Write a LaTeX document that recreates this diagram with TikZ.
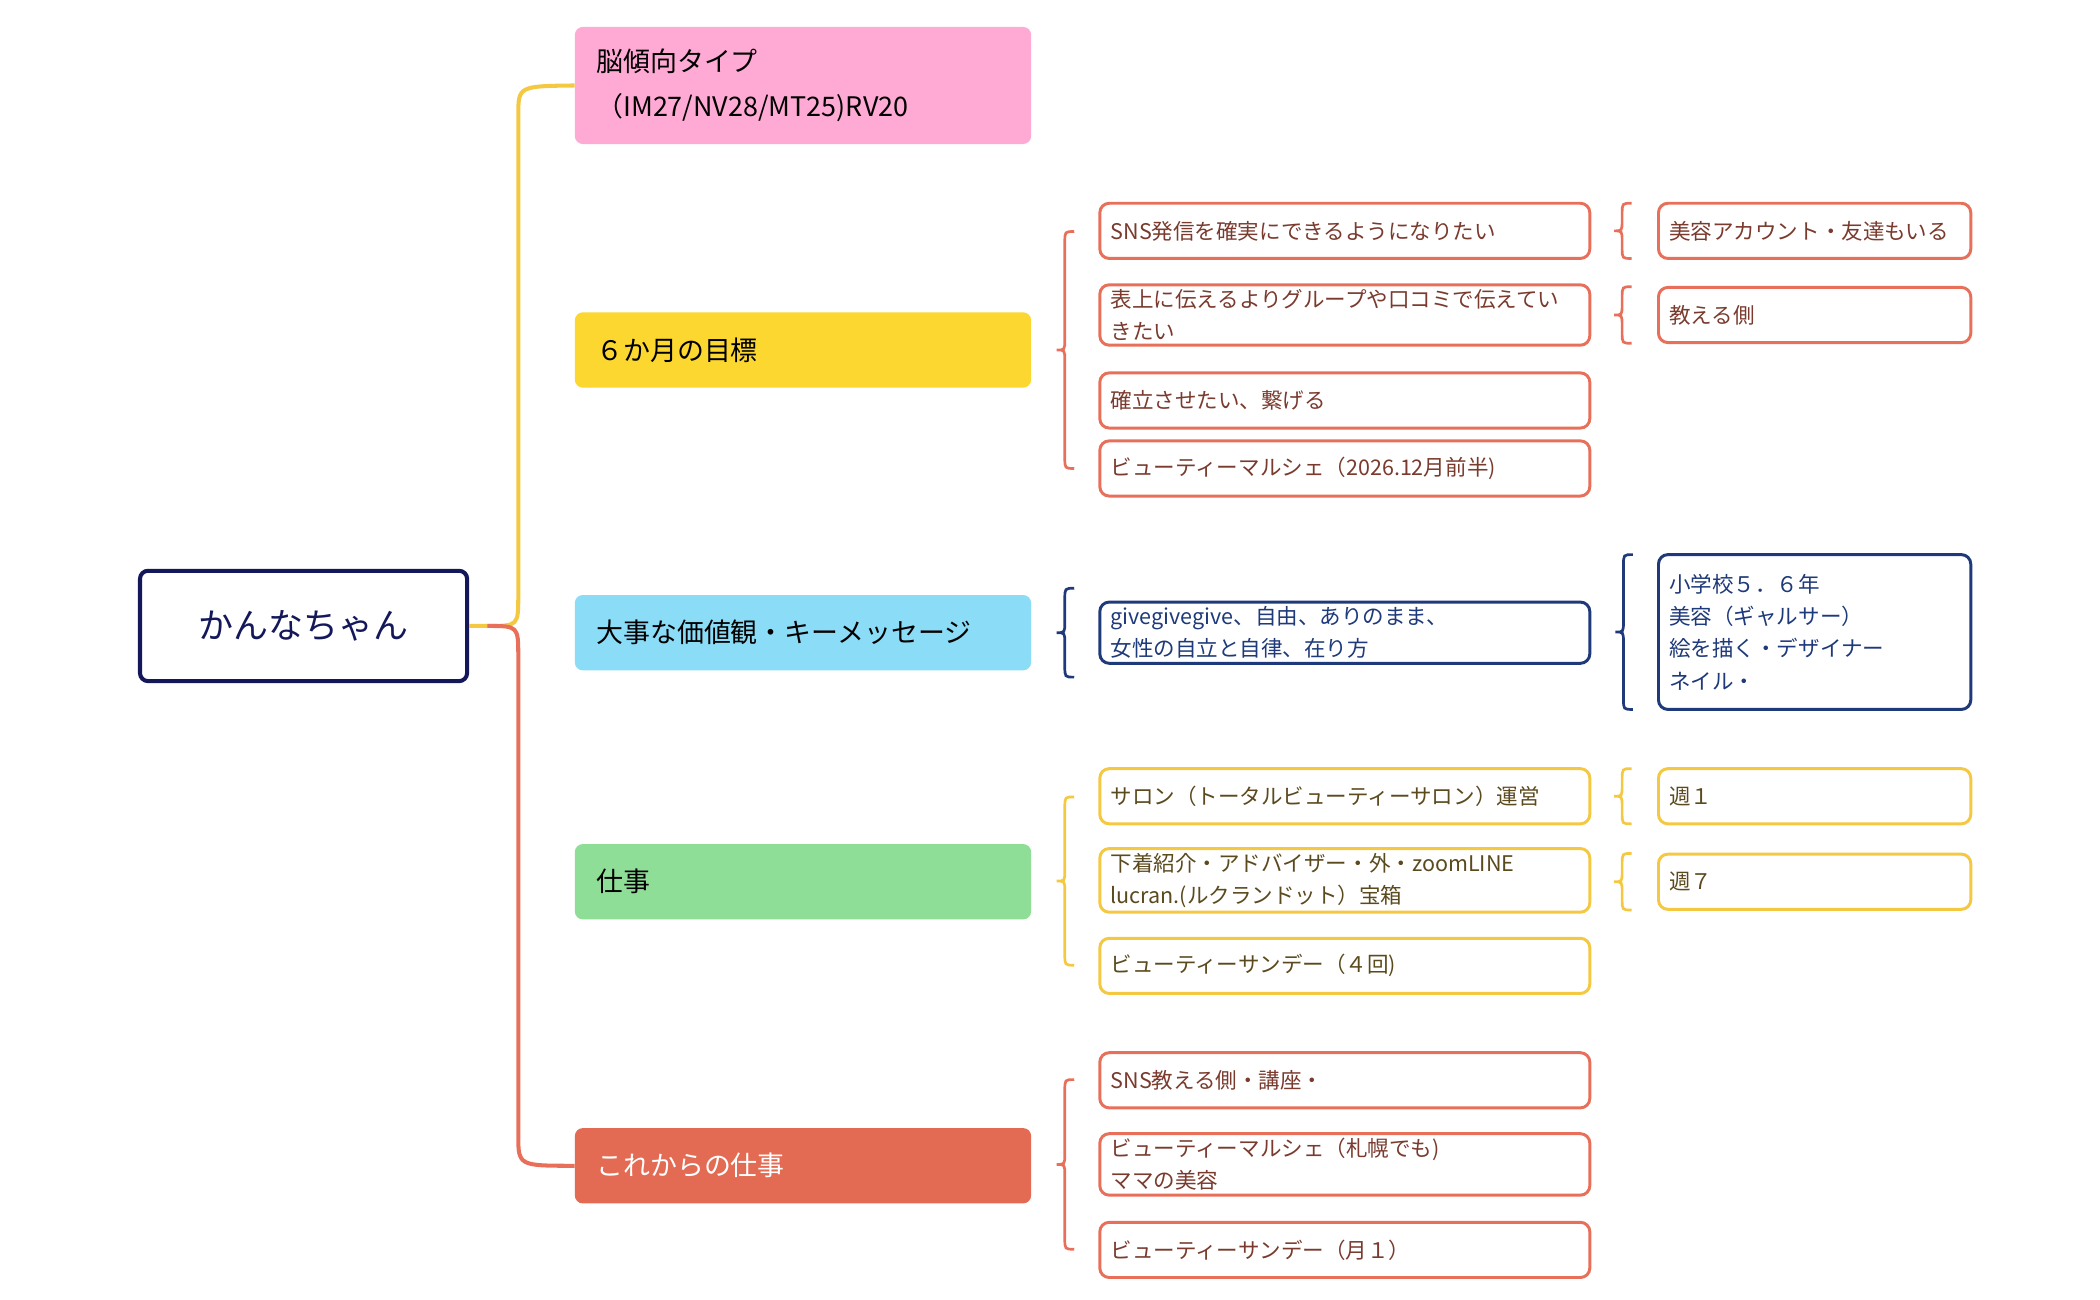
\documentclass[tikz,border=0pt]{standalone}
\usepackage{fontspec}
\setmainfont{Noto Sans CJK JP}
\usetikzlibrary{positioning}

\definecolor{navy}{HTML}{14185A}
\definecolor{redline}{HTML}{E8705A}
\definecolor{redtext}{HTML}{7A3B2E}
\definecolor{blueline}{HTML}{1F3A7A}
\definecolor{yelline}{HTML}{F5C842}
\definecolor{yeltext}{HTML}{5B4A1E}
\definecolor{pinkfill}{HTML}{FFAAD5}
\definecolor{yelfill}{HTML}{FBD72F}
\definecolor{bluefill}{HTML}{8BDCF7}
\definecolor{greenfill}{HTML}{8EDE98}
\definecolor{orangefill}{HTML}{E46B53}

\newcommand{\curly}[4]{%
  \pgfmathsetmacro{\midy}{(#2+#3)/2}
  \draw[#4, line width=2] ({#1+7},#2) .. controls (#1,#2) .. (#1,{#2+8})
    -- (#1,{\midy-8}) .. controls (#1,\midy) .. ({#1-6},\midy)
    .. controls (#1,\midy) .. (#1,{\midy+8}) -- (#1,{#3-8})
    .. controls (#1,#3) .. ({#1+7},#3);}

\begin{document}
\begin{tikzpicture}[
    x=1pt, y=-1pt,
    topic/.style={
        rectangle,
        rounded corners=6pt,
        align=left,
        text width=307pt,
        inner xsep=16pt,
        minimum height=56pt,
        font=\fontsize{20}{33}\selectfont
    },
    leaf/.style={
        rectangle,
        draw,
        line width=2.2,
        rounded corners=7pt,
        fill=white,
        align=left,
        text width=348pt,
        inner xsep=8pt,
        minimum height=41pt,
        font=\fontsize{16}{24}\selectfont
    },
    small/.style={leaf, text width=216pt}
]
\useasboundingbox (0,0) rectangle (1560,965);

% root and main branches
\node[rectangle, draw=navy, line width=3, rounded corners=6pt, minimum width=243pt,
      minimum height=82pt, text=navy, font=\fontsize{26}{30}\selectfont] (root) at (225.5,465) {かんなちゃん};

\node[topic, fill=pinkfill, minimum height=87pt] (brain) at (596.5,63.5) {脳傾向タイプ\\（IM27/NV28/MT25)RV20};
\node[topic, fill=yelfill] (goal) at (596.5,260) {６か月の目標};
\node[topic, fill=bluefill] (value) at (596.5,470) {大事な価値観・キーメッセージ};
\node[topic, fill=greenfill] (work) at (596.5,655) {仕事};
\node[topic, fill=orangefill, text=white] (future) at (596.5,866) {これからの仕事};

\draw[yelline, line width=3] (root.east) -- (362,465) .. controls (385,465) .. (385,442)
    -- (385,86) .. controls (385,64) .. (brain.west);
\draw[redline, line width=3] (362,465) .. controls (385,465) .. (385,488)
    -- (385,843) .. controls (385,866) .. (future.west);

% goals
\node[leaf, draw=redline, text=redtext] (g1) at (999,171.5) {SNS発信を確実にできるようになりたい};
\node[leaf, draw=redline, text=redtext] (g2) at (999,234) {表上に伝えるよりグループや口コミで伝えてい\\きたい};
\node[leaf, draw=redline, text=redtext] (g3) at (999,297.5) {確立させたい、繋げる};
\node[leaf, draw=redline, text=redtext] (g4) at (999,348) {ビューティーマルシェ（2026.12月前半)};
\node[small, draw=redline, text=redtext] (g1a) at (1348,171.5) {美容アカウント・友達もいる};
\node[small, draw=redline, text=redtext] (g2a) at (1348,234) {教える側};
\curly{791}{172}{348}{redline}
\curly{1205}{151}{192}{redline}
\curly{1205}{213}{255}{redline}

% values
\node[leaf, draw=blueline, text=blueline] (v1) at (999,470) {givegivegive、自由、ありのまま、\\女性の自立と自律、在り方};
\node[small, draw=blueline, text=blueline, minimum height=115pt] (v1a) at (1348,469.5) {小学校５．６年\\美容（ギャルサー）\\絵を描く・デザイナー\\ネイル・};
\curly{791}{437}{503}{blueline}
\curly{1206}{412}{527}{blueline}

% work
\node[leaf, draw=yelline, text=yeltext] (w1) at (999,591.5) {サロン（トータルビューティーサロン）運営};
\node[leaf, draw=yelline, text=yeltext] (w2) at (999,654) {下着紹介・アドバイザー・外・zoomLINE\\lucran.(ルクランドット）宝箱};
\node[leaf, draw=yelline, text=yeltext] (w3) at (999,717.5) {ビューティーサンデー（４回)};
\node[small, draw=yelline, text=yeltext] (w1a) at (1348,591.5) {週１};
\node[small, draw=yelline, text=yeltext] (w2a) at (1348,655) {週７};
\curly{791}{592}{717}{yelline}
\curly{1205}{571}{612}{yelline}
\curly{1205}{634}{676}{yelline}

% future
\node[leaf, draw=redline, text=redtext] (f1) at (999,802.5) {SNS教える側・講座・};
\node[leaf, draw=redline, text=redtext] (f2) at (999,865) {ビューティーマルシェ（札幌でも)\\ママの美容};
\node[leaf, draw=redline, text=redtext] (f3) at (999,928.5) {ビューティーサンデー（月１）};
\curly{791}{802}{928}{redline}

\end{tikzpicture}
\end{document}
